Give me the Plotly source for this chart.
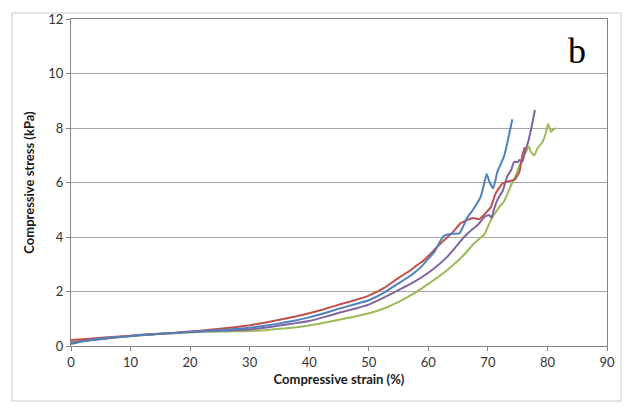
import plotly.graph_objects as go

# Blue sample
blue_x = [0, 2, 4, 6, 8, 10, 12.5, 15, 17.5, 20, 22.5, 25, 27.5, 30, 32.5, 35, 37.5, 40, 42.5, 45, 47.5, 50, 52.5, 55, 57, 58, 59, 60, 61, 62, 62.6, 64, 65.2, 65.7, 66.5, 67.5, 68.8, 69.3, 69.8, 70.3, 70.9, 71.6, 72.2, 72.7, 73.0, 73.5, 74.1]
blue_y = [0.07, 0.17, 0.24, 0.29, 0.33, 0.37, 0.41, 0.45, 0.48, 0.52, 0.55, 0.58, 0.62, 0.67, 0.74, 0.83, 0.93, 1.05, 1.2, 1.37, 1.52, 1.68, 1.95, 2.3, 2.58, 2.75, 2.95, 3.2, 3.45, 3.85, 4.04, 4.12, 4.13, 4.32, 4.7, 5.0, 5.48, 5.9, 6.31, 6.0, 5.79, 6.4, 6.7, 6.95, 7.2, 7.7, 8.32]

# Red sample
red_x = [0, 2.5, 5, 7.5, 10, 12.5, 15, 17.5, 20, 22.5, 25, 27.5, 30, 32.5, 35, 37.5, 40, 42.5, 45, 47.5, 50, 52.5, 55, 57, 58, 59, 60, 62, 64, 65.4, 66.5, 67.5, 68.5, 69.5, 70.5, 71.3, 72.5, 73.5, 74.5, 75.3, 75.8, 76.2]
red_y = [0.22, 0.26, 0.3, 0.34, 0.38, 0.42, 0.45, 0.49, 0.53, 0.58, 0.63, 0.69, 0.76, 0.85, 0.96, 1.07, 1.2, 1.35, 1.52, 1.67, 1.85, 2.12, 2.5, 2.78, 2.95, 3.1, 3.3, 3.75, 4.15, 4.5, 4.62, 4.7, 4.65, 4.85, 5.1, 5.6, 5.97, 6.05, 6.1, 6.4, 7.0, 7.3]

# Green sample
green_x = [0, 2.5, 5, 7.5, 10, 12.5, 15, 17.5, 20, 22.5, 25, 27.5, 30, 32.5, 35, 37.5, 40, 42.5, 45, 47.5, 50, 52, 55, 57.6, 60, 63.2, 66, 67.7, 69.4, 70.5, 71.9, 72.7, 73.7, 74.7, 75.8, 76.4, 76.9, 77.2, 77.8, 78.3, 79.2, 79.7, 80.1, 80.6, 80.9, 81.4]
green_y = [0.15, 0.22, 0.27, 0.32, 0.36, 0.4, 0.44, 0.47, 0.5, 0.52, 0.53, 0.54, 0.55, 0.58, 0.63, 0.68, 0.75, 0.85, 0.96, 1.07, 1.2, 1.33, 1.62, 1.93, 2.28, 2.79, 3.35, 3.77, 4.1, 4.62, 5.1, 5.3, 5.8, 6.28, 6.89, 7.13, 7.32, 7.13, 7.0, 7.25, 7.5, 7.8, 8.15, 7.86, 7.93, 8.0]

# Purple sample
purple_x = [0, 2.5, 5, 7.5, 10, 12.5, 15, 17.5, 20, 22.5, 25, 27.5, 30, 32.5, 35, 37.5, 40, 42.5, 45, 47.5, 50, 52, 55, 57.6, 60.4, 63.2, 66, 67.2, 68.3, 69.4, 70.2, 70.6, 71.0, 71.6, 72.5, 73.2, 73.9, 74.4, 75.0, 75.3, 75.8, 76.2, 76.7, 77.3, 77.9]
purple_y = [0.12, 0.19, 0.25, 0.31, 0.37, 0.41, 0.45, 0.48, 0.51, 0.54, 0.56, 0.58, 0.61, 0.67, 0.75, 0.83, 0.92, 1.06, 1.22, 1.36, 1.52, 1.72, 2.05, 2.35, 2.75, 3.28, 4.0, 4.25, 4.44, 4.74, 4.81, 4.7, 5.0, 5.36, 5.7, 6.2, 6.46, 6.76, 6.75, 6.83, 6.76, 7.1, 7.44, 8.0, 8.66]

x_ticks = [0, 10, 20, 30, 40, 50, 60, 70, 80, 90]
y_ticks = [0, 2, 4, 6, 8, 10, 12]

fig = go.Figure()
for xs, ys, col in [(green_x, green_y, "#9BBB59"),
                    (purple_x, purple_y, "#8064A2"),
                    (red_x, red_y, "#C0504D"),
                    (blue_x, blue_y, "#4F81BD")]:
    fig.add_trace(go.Scatter(x=xs, y=ys, mode="lines",
                             line=dict(color=col, width=2, shape="spline", smoothing=0.4),
                             showlegend=False))

# page body has an 8px margin: size the figure to fit inside the window
W, H = 614, 394
L, T = 71 - 8, 19 - 8
R, B = W - (607 - 8), H - (346 - 8)
PW, PH = W - L - R, H - T - B

axis_font = dict(family="Lato, Open Sans, sans-serif", size=13, color="#333333")
title_font = dict(family="Lato, Open Sans, sans-serif", size=13, color="#1a1a1a")
fig.update_layout(
    width=W, height=H, autosize=False,
    margin=dict(l=L, r=R, t=T, b=B, autoexpand=False),
    paper_bgcolor="white", plot_bgcolor="white",
    xaxis=dict(range=[0, 90], tickvals=x_ticks, showgrid=False, automargin=False,
               showline=True, linecolor="#868686", linewidth=1, mirror=True,
               ticks="outside", ticklen=4, tickcolor="#868686",
               tickfont=axis_font, zeroline=False,
               title=dict(text="<b>Compressive strain (%)</b>", font=title_font,
                          standoff=6)),
    yaxis=dict(range=[0, 12], tickvals=y_ticks, showgrid=True, automargin=False,
               gridcolor="#A6A6A6", gridwidth=1,
               showline=True, linecolor="#868686", linewidth=1, mirror=True,
               ticks="outside", ticklen=4, tickcolor="#868686",
               tickfont=axis_font, zeroline=False,
               title=dict(text="<b>Compressive stress (kPa)</b>", font=title_font,
                          standoff=10)),
    shapes=[dict(type="rect", xref="paper", yref="paper",
                 x0=(12 - 8 - L) / PW, x1=(W - 1 - L) / PW,
                 y0=-(B - 1) / PH, y1=(PH + T - (5 - 8 + 8)) / PH,
                 line=dict(color="#C8C8C8", width=1), layer="below")],
    annotations=[dict(text="b", showarrow=False,
                      x=(577 - 71) / 536 * 90, y=(346 - 51) / 327 * 12,
                      xref="x", yref="y",
                      font=dict(family="Liberation Serif, Times New Roman, serif",
                                size=36, color="#000000"))],
)
fig.write_html("out.html")
